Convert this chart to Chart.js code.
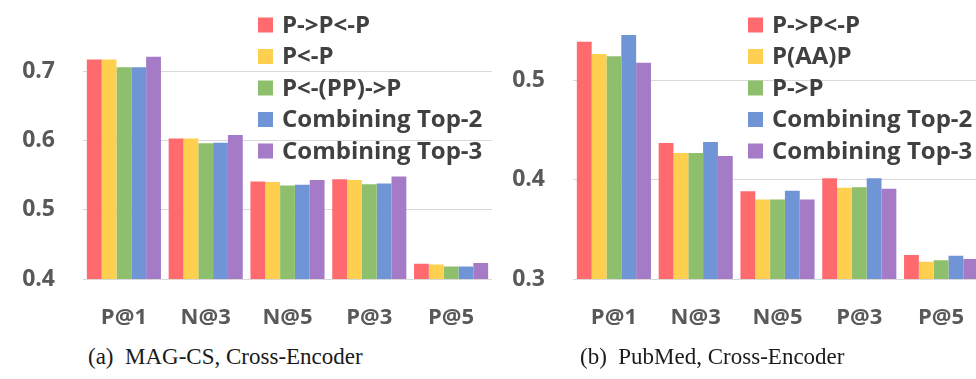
<!DOCTYPE html>
<html>
<head>
<meta charset="utf-8">
<script src="https://cdn.jsdelivr.net/npm/chart.js@4"></script>
<style>
  body { margin: 0; width: 976px; height: 379px; overflow: hidden; background: #fff; position: relative; }
  .panel { position: absolute; top: 0; width: 492px; height: 340px; }
  #panelA { left: 0; }
  #panelB { left: 490px; }
  .cap { position: absolute; top: 344px; font: 23px 'Liberation Serif', 'DejaVu Serif', serif; color: #1a1a1a; white-space: pre; }
</style>
</head>
<body>
<div class="panel" id="panelA"><canvas id="chartMag" width="492" height="340"></canvas></div>
<div class="panel" id="panelB"><canvas id="chartPub" width="492" height="340"></canvas></div>
<div class="cap" style="left:88px">(a)  MAG-CS, Cross-Encoder</div>
<div class="cap" style="left:580px">(b)  PubMed, Cross-Encoder</div>
<script>
// categorias do eixo x (iguais nos dois paineis)
const categories = ['P@1', 'N@3', 'N@5', 'P@3', 'P@5'];
const seriesColors = ['#ff6a6e', '#ffd04f', '#8ebf6c', '#6f95d6', '#a57bc7'];

// (a) MAG-CS
const magNames = ['P->P<-P', 'P<-P', 'P<-(PP)->P', 'Combining Top-2', 'Combining Top-3'];
const magPtoPfromP = [0.717, 0.603, 0.541, 0.544, 0.422];
const magPfromP = [0.717, 0.603, 0.540, 0.543, 0.421];
const magPPP = [0.706, 0.596, 0.535, 0.537, 0.418];
const magTop2 = [0.706, 0.597, 0.536, 0.538, 0.418];
const magTop3 = [0.721, 0.608, 0.543, 0.548, 0.423];
const magTicks = [0.4, 0.5, 0.6, 0.7];

// (b) PubMed
const pubNames = ['P->P<-P', 'P(AA)P', 'P->P', 'Combining Top-2', 'Combining Top-3'];
const pubPtoPfromP = [0.539, 0.437, 0.3885, 0.4016, 0.3242];
const pubPAAP = [0.5266, 0.427, 0.380, 0.392, 0.3175];
const pubPtoP = [0.5245, 0.427, 0.380, 0.3925, 0.3188];
const pubTop2 = [0.5458, 0.438, 0.389, 0.4016, 0.3235];
const pubTop3 = [0.5178, 0.424, 0.380, 0.391, 0.3202];
const pubTicks = [0.3, 0.4, 0.5];

const tickFont = '"Open Sans", "DejaVu Sans", sans-serif';

// legenda desenhada dentro da area do grafico, uma entrada por linha
const insideLegend = {
  id: 'insideLegend',
  afterDraw(chart) {
    const { ctx, chartArea } = chart;
    const x = chartArea.left + 175;
    ctx.save();
    ctx.font = `700 24px ${tickFont}`;
    ctx.textBaseline = 'middle';
    chart.data.datasets.forEach((ds, i) => {
      const cy = 25 + i * 31.5;
      ctx.fillStyle = ds.backgroundColor;
      ctx.fillRect(x, cy - 7.5, 15, 15);
      ctx.fillStyle = '#404040';
      ctx.fillText(ds.label, x + 24, cy + 1);
    });
    ctx.restore();
  },
};

function makeChart(id, names, series, ticks, min, max) {
  return new Chart(document.getElementById(id), {
    type: 'bar',
    data: {
      labels: categories,
      datasets: series.map((data, i) => ({
        label: names[i],
        data,
        backgroundColor: seriesColors[i],
        borderWidth: 0,
        barPercentage: 1,
        categoryPercentage: 0.906,
      })),
    },
    options: {
      responsive: false,
      animation: false,
      devicePixelRatio: 1,
      layout: { padding: { top: 16, left: 0, right: 0, bottom: 0 } },
      plugins: { legend: { display: false }, tooltip: { enabled: false } },
      scales: {
        x: {
          grid: { display: false },
          border: { display: false },
          ticks: { color: '#595959', padding: 18, font: { family: tickFont, size: 22, weight: '700' } },
          afterFit: (scale) => { scale.height = 61; scale.paddingLeft = 0; scale.paddingRight = 0; },
        },
        y: {
          min, max,
          afterBuildTicks: (scale) => { scale.ticks = ticks.map((v) => ({ value: v })); },
          grid: { color: '#d9d9d9', drawTicks: false },
          border: { display: false },
          ticks: { color: '#595959', padding: 28, font: { family: tickFont, size: 23, weight: '700' }, callback: (v) => Number(v).toFixed(1) },
          afterFit: (scale) => { scale.width = 83; scale.paddingTop = 0; scale.paddingBottom = 0; },
        },
      },
    },
    plugins: [insideLegend],
  });
}

makeChart('chartMag', magNames, [magPtoPfromP, magPfromP, magPPP, magTop2, magTop3], magTicks, 0.4, 0.78);
makeChart('chartPub', pubNames, [pubPtoPfromP, pubPAAP, pubPtoP, pubTop2, pubTop3], pubTicks, 0.3, 0.565);
</script>
</body>
</html>
